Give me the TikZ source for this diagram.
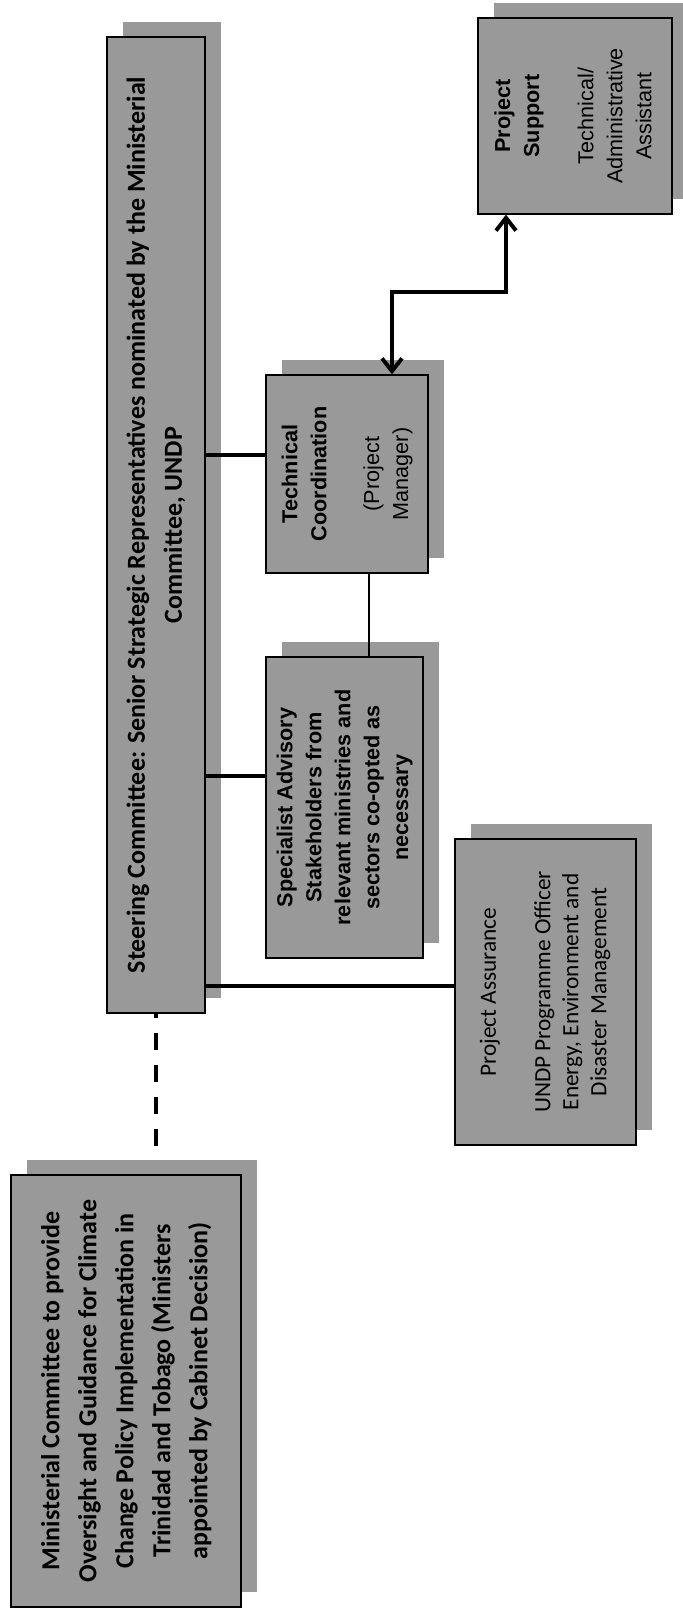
\documentclass[tikz,border=0pt]{standalone}
\usepackage{fontspec}
\usepackage{graphicx}
\usetikzlibrary{arrows.meta,shadows}
\newfontfamily\calibri{Carlito}
\newfontfamily\arial{Liberation Sans}
\newcommand{\uptext}[1]{\rotatebox{90}{\begin{tabular}{@{}c@{}}#1\end{tabular}}}

\begin{document}
\begin{tikzpicture}[
  unit/.style={rectangle, draw, line width=0.9pt, fill=black!40, inner sep=0pt,
               general shadow={fill=black!40, shadow xshift=0.4cm, shadow yshift=0.375cm}},
  board/.style={font=\calibri\bfseries\fontsize{18.5}{26.3}\selectfont},
  office/.style={font=\arial\fontsize{15.4}{20.6}\selectfont},
  assure/.style={font=\calibri\fontsize{16.6}{19.9}\selectfont},
  link/.style={line width=2.8pt},
  thinlink/.style={line width=1.8pt},
  dashlink/.style={line width=3pt, dash pattern=on 0.425cm off 0.375cm, dash phase=0.325cm},
  twoway/.style={line width=2.8pt,
    {Straight Barb[length=3.2mm,width=5mm]}-{Straight Barb[length=3.2mm,width=5mm]}}]
  \useasboundingbox (0,0) rectangle (17.05,-40.25);
  \node[unit, board, minimum width=2.45cm, minimum height=24.4cm] (steer) at (3.9,-13.125)
    {\uptext{Steering Committee: Senior Strategic Representatives nominated by the Ministerial\\Committee, UNDP}};
  \node[unit, board, minimum width=5.75cm, minimum height=10.8cm] (minist) at (3.15,-34.775)
    {\uptext{Ministerial Committee to provide\\Oversight and Guidance for Climate\\Change Policy Implementation in\\Trinidad and Tobago (Ministers\\appointed by Cabinet Decision)}};
  \node[unit, office, minimum width=4.05cm, minimum height=4.95cm] (techco) at (8.675,-11.85)
    {\uptext{\bfseries Technical\\\bfseries Coordination\\[17pt](Project\\Manager)}};
  \node[unit, office, minimum width=3.925cm, minimum height=7.525cm] (advis) at (8.6125,-20.1875)
    {\uptext{\bfseries Specialist Advisory\\\bfseries Stakeholders from\\\bfseries relevant ministries and\\\bfseries sectors co-opted as\\\bfseries necessary}};
  \node[unit, assure, minimum width=4.525cm, minimum height=7.65cm] (assur) at (13.6375,-24.8)
    {\uptext{Project Assurance\\[19pt]UNDP Programme Officer\\Energy, Environment and\\Disaster Management}};
  \node[unit, office, minimum width=4.85cm, minimum height=4.9cm] (supp) at (14.375,-2.9)
    {\uptext{\bfseries Project\\\bfseries Support\\[18pt]Technical/\\Administrative\\Assistant}};
  \draw[link] ([yshift=0.475cm]techco.west) -- ([yshift=0.475cm]techco.west -| steer.east);
  \draw[link] ([yshift=0.79cm]advis.west) -- ([yshift=0.79cm]advis.west -| steer.east);
  \draw[link] ([yshift=0.15cm]assur.west) -- ([yshift=0.15cm]assur.west -| steer.east);
  \draw[thinlink] ([xshift=0.55cm]techco.south) -- ([xshift=0.55cm]techco.south |- advis.north);
  \draw[twoway] ([xshift=1.125cm]techco.north) -- ++(0,2.05) -| ([xshift=-1.725cm]supp.south);
  \draw[dashlink] (steer.south) -- ([yshift=0.375cm]steer.south |- minist.north);
\end{tikzpicture}
\end{document}
